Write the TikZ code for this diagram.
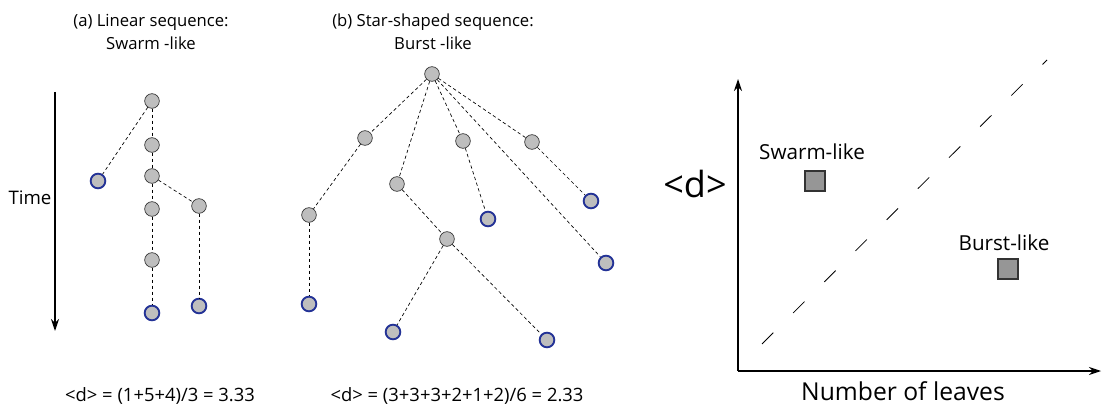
\documentclass[tikz,border=0pt]{standalone}
\usepackage{fontspec}
\setmainfont{Open Sans}
\usepackage{xcolor}
\usepackage{tikz}
\usetikzlibrary{arrows.meta}

\definecolor{nodegray}{RGB}{190,190,190}
\definecolor{leafblue}{RGB}{35,50,150}
\definecolor{markgray}{RGB}{150,150,150}

\begin{document}
\begin{tikzpicture}[
    x=0.75pt, y=-0.75pt,
    every node/.style={font=\fontsize{12.5}{17}\selectfont},
    event/.style={circle, draw=black!80, line width=0.5pt, fill=nodegray, minimum size=11pt, inner sep=0pt},
    leaf/.style={event, draw=leafblue, line width=1.4pt},
    link/.style={dashed, dash pattern=on 2.5pt off 2pt, line width=0.5pt},
    axis/.style={-{Stealth[length=9pt, width=6pt]}, line width=1pt},
    marker/.style={rectangle, draw=black!80, line width=0.8pt, fill=markgray, minimum size=15pt, inner sep=0pt},
    formula/.style={font=\fontsize{13.8}{16}\selectfont},
]
\useasboundingbox (0,0) rectangle (1102,406);

% (a) linear sequence
\node[align=center] (titleA) at (151,32) {(a) Linear sequence:\\Swarm -like};
\node (a1) [event] at (152,101) {};
\node (a2) [event] at (152,145) {};
\node (a3) [event] at (152,176) {};
\node (a4) [event] at (152,209) {};
\node (a5) [event] at (152,260) {};
\node (a6) [event] at (199,206) {};
\node (aleaf1) [leaf] at (98,181) {};
\node (aleaf2) [leaf] at (152,313) {};
\node (aleaf3) [leaf] at (199,306) {};
\draw[link] (a1) -- (aleaf1);
\draw[link] (a1) -- (a2);
\draw[link] (a2) -- (a3);
\draw[link] (a3) -- (a4);
\draw[link] (a4) -- (a5);
\draw[link] (a5) -- (aleaf2);
\draw[link] (a3) -- (a6);
\draw[link] (a6) -- (aleaf3);
\coordinate (tstart) at (55,92);
\coordinate (tend) at (55,331);
\draw[axis] (tstart) -- (tend);
\node[anchor=east, inner sep=1pt, font=\fontsize{14}{17}\selectfont] (time) at (53,198) {Time};
\node[formula] (formA) at (160,396) {<d> = (1+5+4)/3 = 3.33};

% (b) star-shaped sequence
\node[align=center] (titleB) at (433,32) {(b) Star-shaped sequence:\\Burst -like};
\node (b0) [event] at (432,74) {};
\node (b1) [event] at (365,138) {};
\node (b2) [event] at (397,184) {};
\node (b3) [event] at (463,141) {};
\node (b4) [event] at (532,142) {};
\node (b5) [event] at (309,215) {};
\node (b6) [event] at (447,239) {};
\node (bleaf1) [leaf] at (309,304) {};
\node (bleaf2) [leaf] at (393,332) {};
\node (bleaf3) [leaf] at (547,340) {};
\node (bleaf4) [leaf] at (488,219) {};
\node (bleaf5) [leaf] at (591,201) {};
\node (bleaf6) [leaf] at (606,263) {};
\foreach \t in {b1,b2,b3,b4,bleaf6}
  \draw[link] (b0) -- (\t);
\draw[link] (b1) -- (b5);
\draw[link] (b5) -- (bleaf1);
\draw[link] (b2) -- (b6);
\draw[link] (b6) -- (bleaf2);
\draw[link] (b6) -- (bleaf3);
\draw[link] (b3) -- (bleaf4);
\draw[link] (b4) -- (bleaf5);
\node[formula] (formB) at (457,396) {<d> = (3+3+3+2+1+2)/6 = 2.33};

% (c) <d> against number of leaves
\coordinate (origin) at (738,371);
\coordinate (ytop) at (738,79);
\coordinate (xend) at (1101,371);
\draw[axis] (origin) -- (ytop);
\draw[axis] (origin) -- (xend);
\coordinate (dstart) at (762,344);
\coordinate (dend) at (1047,60);
\draw[dashed, dash pattern=on 12pt off 21pt, line width=0.6pt] (dstart) -- (dend);
\node (swarm) [marker] at (815,181) {};
\node (swarmlbl) [font=\fontsize{15.5}{18}\selectfont] at (812,152) {Swarm-like};
\node (burst) [marker] at (1008,269) {};
\node (burstlbl) [font=\fontsize{15.5}{18}\selectfont] at (1004,243) {Burst-like};
\node (xlbl) [font=\fontsize{18.5}{21}\selectfont] at (903,391) {Number of leaves};
\node (ylbl) [font=\fontsize{27}{30}\selectfont] at (695,184) {<d>};
\end{tikzpicture}
\end{document}
